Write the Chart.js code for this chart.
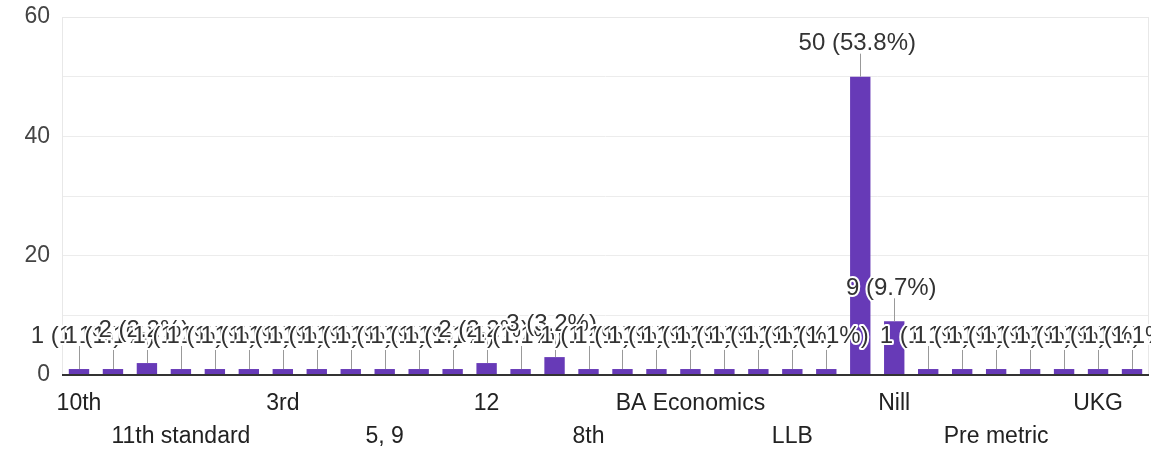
<!DOCTYPE html>
<html>
<head>
<meta charset="utf-8">
<script src="https://cdn.jsdelivr.net/npm/chart.js@4.4.1/dist/chart.umd.min.js"></script>
<style>
    html, body { margin: 0; padding: 0; background: #fff; }
    #wrap { width: 1151px; height: 452px; position: relative; }
</style>
</head>
<body>
<div id="wrap"><canvas id="chart"></canvas></div>
<script>
// ============ Data ============

const CATEGORIES = [
    '10th', '10th std', '10th standard', '11th standard', '12th', '2nd',
    '3rd', '4th', '5th', '5, 9', '6th', '7th',
    '12', '7th std', '8', '8th', '9th', 'B.Com',
    'BA Economics', 'BA English', 'Degree', 'LLB', 'MA', 'Nil',
    'Nill', 'No', 'Plus two', 'Pre metric', 'SSLC', 'TTC',
    'UKG', 'Upper primary'
];

const COUNTS = [
    1, 1, 2, 1, 1, 1,
    1, 1, 1, 1, 1, 1,
    2, 1, 3, 1, 1, 1,
    1, 1, 1, 1, 1, 50,
    9, 1, 1, 1, 1, 1,
    1, 1
];

const Y_TICKS = [0, 20, 40, 60];

const BAR_COLOR = '#673ab7';
const TOTAL = COUNTS.reduce((s, v) => s + v, 0);

function labelFor(v) {
    return `${v} (${(v / TOTAL * 100).toFixed(1)}%)`;
}

// ============ Plugins ============

// light box round the plot and dark baseline at zero
const frame = {
    id: 'frame',
    beforeDatasetsDraw(chart) {
        const { ctx, chartArea: a } = chart;
        ctx.save();
        ctx.strokeStyle = '#e8e8e8';
        ctx.lineWidth = 1;
        ctx.strokeRect(a.left + 0.5, a.top + 0.5, a.right - a.left - 1, a.bottom - a.top);
        ctx.restore();
    },
    afterDatasetsDraw(chart) {
        const { ctx, chartArea: a } = chart;
        const y0 = chart.scales.y.getPixelForValue(0);
        ctx.save();
        ctx.strokeStyle = '#333';
        ctx.lineWidth = 2;
        ctx.beginPath();
        ctx.moveTo(a.left, y0);
        ctx.lineTo(a.right, y0);
        ctx.stroke();
        ctx.restore();
    }
};

// "n (p%)" annotations with leader lines, drawn in order so later ones overlap
const annotations = {
    id: 'annotations',
    afterDraw(chart) {
        const { ctx } = chart;
        const bars = chart.getDatasetMeta(0).data;
        ctx.save();
        ctx.strokeStyle = '#999';
        ctx.lineWidth = 1;
        bars.forEach(bar => {
            const x = Math.round(bar.x) + 0.5;
            ctx.beginPath();
            ctx.moveTo(x, bar.y);
            ctx.lineTo(x, bar.y - 23);
            ctx.stroke();
        });
        ctx.font = '24px "Liberation Sans", Arial, sans-serif';
        ctx.textAlign = 'center';
        ctx.textBaseline = 'middle';
        ctx.lineJoin = 'round';
        bars.forEach((bar, i) => {
            const text = labelFor(COUNTS[i]);
            const ty = bar.y - 33;
            ctx.strokeStyle = '#fff';
            ctx.lineWidth = 4;
            ctx.strokeText(text, bar.x - 3, ty);
            ctx.fillStyle = '#333';
            ctx.fillText(text, bar.x - 3, ty);
        });
        ctx.restore();
    }
};

// ============ Chart ============

const ctx = document.getElementById('chart').getContext('2d');

new Chart(ctx, {
    type: 'bar',
    data: {
        labels: CATEGORIES,
        datasets: [{
            data: COUNTS,
            backgroundColor: BAR_COLOR,
            barPercentage: 0.6,
            categoryPercentage: 1.0,
            borderWidth: 0
        }]
    },
    options: {
        responsive: true,
        maintainAspectRatio: false,
        animation: false,
        layout: { padding: { top: 17, right: 2, left: 0, bottom: 0 } },
        plugins: {
            legend: { display: false },
            tooltip: { enabled: false }
        },
        scales: {
            x: {
                afterFit: (scale) => { scale.height = 77; },
                grid: { display: false },
                border: { display: false },
                ticks: {
                    autoSkip: false,
                    maxRotation: 0,
                    minRotation: 0,
                    padding: 5,
                    color: '#222',
                    font: { family: '"Liberation Sans", Arial, sans-serif', size: 23, lineHeight: 1.4 },
                    callback: (val, i) => {
                        if (i % 3 !== 0) return '';
                        return (i / 3) % 2 === 0 ? CATEGORIES[i] : ['', CATEGORIES[i]];
                    }
                }
            },
            y: {
                min: 0,
                max: 60,
                afterFit: (scale) => {
                    scale.width = 62;
                    scale.paddingTop = 0;
                    scale.paddingBottom = 0;
                },
                grid: { color: '#ececec', drawTicks: false },
                border: { display: false },
                ticks: {
                    stepSize: 10,
                    padding: 12,
                    color: '#444',
                    font: { family: '"Liberation Sans", Arial, sans-serif', size: 23 },
                    callback: (val) => Y_TICKS.includes(val) ? val : ''
                }
            }
        }
    },
    plugins: [frame, annotations]
});
</script>
</body>
</html>
